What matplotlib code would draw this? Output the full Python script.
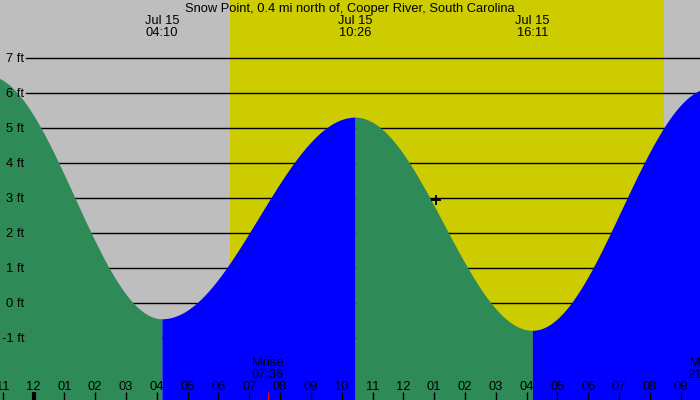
import numpy as np
import matplotlib
matplotlib.use("Agg")
import matplotlib.pyplot as plt

plt.rcParams['font.family'] = ['Liberation Sans', 'DejaVu Sans']

# ---- data (hours relative to Jul 15 00:00) ----
title = "Snow Point, 0.4 mi north of, Cooper River, South Carolina"
extreme_hours = [-1.5, 4.1667, 10.4333, 16.1833, 22.0]
extreme_heights = [6.5, -0.45, 5.31, -0.78, 6.15]
label_hours = [4.1667, 10.4333, 16.1833]
label_dates = ["Jul 15", "Jul 15", "Jul 15"]
label_times = ["04:10", "10:26", "16:11"]
sunrise, sunset = 6.37, 20.45
moon_hours = [7.6, 21.75]
moon_names = ["Mrise", "Mset"]
moon_times = ["07:36", "21:45"]
tick_hours = list(range(-1, 22))
tick_labels = ["11", "12", "01", "02", "03", "04", "05", "06", "07", "08", "09", "10",
               "11", "12", "01", "02", "03", "04", "05", "06", "07", "08", "09"]
grid_levels = [-1, 0, 1, 2, 3, 4, 5, 6, 7]
now_hour, now_height = 13.06, 2.94

GRAY = "#BEBEBE"
YELLOW = "#CCCC00"
GREEN = "#2E8B57"
BLUE = "#0000FF"
FS = 9.3

W, H = 700, 400
fig = plt.figure(figsize=(7, 4), dpi=100)
ax = fig.add_axes([0, 0, 1, 1])
x0, x1 = -33.5 / 30.82, (700 - 33.5) / 30.82
y0, y1 = (303 - 400) / 35, 303 / 35
ax.set_xlim(x0, x1)
ax.set_ylim(y0, y1)
ax.axis('off')
fig.patch.set_facecolor(GRAY)
ax.add_patch(plt.Rectangle((x0, y0), x1 - x0, y1 - y0, color=GRAY, zorder=0))

ax.axvspan(sunrise, sunset, color=YELLOW, zorder=0.5, lw=0)

def fy(py):
    # pixel row from top -> axes fraction
    return 1 - py / H

for g in grid_levels:
    ax.axhline(g, xmin=26 / W, xmax=1, color='black', lw=1, zorder=1)
    ax.text(24 / W, g - 3.7 / 35, f"{g} ft", ha='right', va='baseline',
            transform=ax.get_yaxis_transform(), fontsize=FS, zorder=5)

# tide curve: cosine between successive extremes
for i in range(len(extreme_hours) - 1):
    ta, tb = extreme_hours[i], extreme_hours[i + 1]
    ha, hb = extreme_heights[i], extreme_heights[i + 1]
    t = np.linspace(ta, tb, 200)
    h = ha + (hb - ha) * (1 - np.cos(np.pi * (t - ta) / (tb - ta))) / 2
    color = GREEN if hb < ha else BLUE
    ax.fill_between(t, h, y0, color=color, lw=0, zorder=2)

trans = ax.get_xaxis_transform()
for th, tl in zip(tick_hours, tick_labels):
    lw = 3 if th == 0 else 1
    ax.plot([th, th], [0, fy(392)], transform=trans, color='black', lw=lw, zorder=4,
            solid_capstyle='butt')
    ax.text(th, fy(390), tl, transform=trans, ha='center', va='baseline', fontsize=FS, zorder=5)

for mh, mn, mt in zip(moon_hours, moon_names, moon_times):
    ax.plot([mh, mh], [0, fy(392)], transform=trans, color='red', lw=1, zorder=4,
            solid_capstyle='butt')
    ax.text(mh, fy(366), mn, transform=trans, ha='center', va='baseline', fontsize=FS, zorder=5)
    ax.text(mh, fy(378), mt, transform=trans, ha='center', va='baseline', fontsize=FS, zorder=5)

for lh, ld, lt in zip(label_hours, label_dates, label_times):
    ax.text(lh, fy(24), ld, transform=trans, ha='center', va='baseline', fontsize=FS, zorder=5)
    ax.text(lh, fy(36), lt, transform=trans, ha='center', va='baseline', fontsize=FS, zorder=5)

ax.text(0.5, fy(12), title, transform=ax.transAxes, ha='center', va='baseline',
        fontsize=FS, zorder=5)

ax.plot([now_hour], [now_height], marker='+', color='black', markersize=7,
        markeredgewidth=1.3, zorder=6)

fig.savefig("out.png", dpi=100, facecolor=GRAY)
